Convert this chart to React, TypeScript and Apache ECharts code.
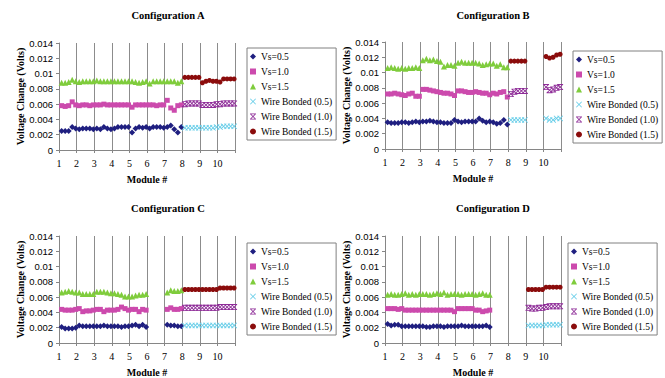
import React, { useEffect, useRef } from "react";
import * as echarts from "echarts";

// ---------- data ----------
const SERIES_NAMES = [
  "Vs=0.5",
  "Vs=1.0",
  "Vs=1.5",
  "Wire Bonded (0.5)",
  "Wire Bonded (1.0)",
  "Wire Bonded (1.5)",
];
const PANEL_TITLES = ["Configuration A", "Configuration B", "Configuration C", "Configuration D"];
const MODULE_TICKS = [1, 2, 3, 4, 5, 6, 7, 8, 9, 10, 11];
const MODULE_LABELS = ["1", "2", "3", "4", "5", "6", "7", "8", "9", "10", ""];
// position of the 5 samples inside one module
const SAMPLE_OFFSETS = [0.15, 0.35, 0.55, 0.75, 0.95];

// Each array: one group of 5 samples per module (null = module not measured)
// Configuration A
const A_VS05 = [
  [0.0025, 0.0025, 0.0025, 0.003, 0.0028],
  [0.0027, 0.0028, 0.0028, 0.0028, 0.0027],
  [0.0028, 0.0027, 0.003, 0.0028, 0.0027],
  [0.0028, 0.003, 0.003, 0.003, 0.003],
  [0.0023, 0.0028, 0.003, 0.0029, 0.003],
  [0.0028, 0.003, 0.003, 0.003, 0.0029],
  [0.003, 0.0032, 0.0027, 0.0023, 0.003],
];
const A_VS10 = [
  [0.0058, 0.0057, 0.0058, 0.0063, 0.0059],
  [0.0058, 0.0059, 0.0059, 0.0058, 0.0059],
  [0.0059, 0.0059, 0.006, 0.0059, 0.0059],
  [0.0059, 0.0059, 0.0059, 0.0059, 0.0059],
  [0.0056, 0.0059, 0.0059, 0.0059, 0.0059],
  [0.0059, 0.0059, 0.0058, 0.0059, 0.0059],
  [0.0065, 0.0055, 0.0052, 0.0058, 0.0059],
];
const A_VS15 = [
  [0.0088, 0.0088, 0.0089, 0.0092, 0.009],
  [0.0089, 0.009, 0.009, 0.009, 0.009],
  [0.0091, 0.009, 0.009, 0.009, 0.009],
  [0.009, 0.009, 0.009, 0.009, 0.009],
  [0.009, 0.0089, 0.0088, 0.0089, 0.009],
  [0.0087, 0.009, 0.009, 0.009, 0.009],
  [0.009, 0.009, 0.009, 0.0088, 0.009],
];
const A_WB05 = [
  [0.0029, 0.0029, 0.0029, 0.0029, 0.0029],
  [0.0029, 0.0029, 0.0029, 0.0029, 0.003],
  [0.003, 0.0031, 0.0031, 0.0031, 0.0031],
];
const A_WB10 = [
  [0.006, 0.0061, 0.0061, 0.0061, 0.0061],
  [0.0059, 0.0059, 0.0059, 0.0059, 0.006],
  [0.006, 0.0061, 0.0061, 0.0061, 0.0061],
];
const A_WB15 = [
  [0.0095, 0.0095, 0.0095, 0.0095, 0.0095],
  [0.0088, 0.009, 0.0091, 0.009, 0.009],
  [0.0089, 0.0093, 0.0093, 0.0093, 0.0093],
];

// Configuration B
const B_VS05 = [
  [0.0035, 0.0034, 0.0034, 0.0034, 0.0035],
  [0.0035, 0.0034, 0.0035, 0.0036, 0.0035],
  [0.0036, 0.0036, 0.0037, 0.0036, 0.0035],
  [0.0035, 0.0034, 0.0034, 0.0034, 0.0038],
  [0.0036, 0.0035, 0.0036, 0.0036, 0.0036],
  [0.0036, 0.004, 0.0037, 0.0035, 0.0036],
  [0.0035, 0.0033, 0.0034, 0.0038, 0.0032],
];
const B_VS10 = [
  [0.0072, 0.0072, 0.0073, 0.0072, 0.0071],
  [0.007, 0.0072, 0.0073, 0.0069, 0.0069],
  [0.0078, 0.0078, 0.0077, 0.0076, 0.0075],
  [0.0074, 0.0073, 0.0073, 0.0072, 0.007],
  [0.0076, 0.0076, 0.0075, 0.0074, 0.0074],
  [0.0075, 0.0074, 0.0073, 0.0073, 0.0071],
  [0.0073, 0.0072, 0.0074, 0.0075, 0.0068],
];
const B_VS15 = [
  [0.0106, 0.0107, 0.0106, 0.0105, 0.0106],
  [0.0105, 0.0106, 0.0106, 0.0107, 0.0106],
  [0.0116, 0.0118, 0.0116, 0.0117, 0.0115],
  [0.0114, 0.0108, 0.011, 0.011, 0.0109],
  [0.0113, 0.0114, 0.0113, 0.0113, 0.0113],
  [0.0113, 0.0112, 0.011, 0.0111, 0.0112],
  [0.0112, 0.0109, 0.0111, 0.0107, 0.0107],
];
const B_WB05 = [
  [0.0038, 0.0038, 0.0038, 0.0038, 0.0038],
  null,
  [0.004, 0.0038, 0.0038, 0.004, 0.004],
];
const B_WB10 = [
  [0.0072, 0.0075, 0.0076, 0.0076, 0.0076],
  null,
  [0.0081, 0.0077, 0.0078, 0.008, 0.0081],
];
const B_WB15 = [
  [0.0115, 0.0115, 0.0115, 0.0115, 0.0115],
  null,
  [0.0121, 0.0119, 0.012, 0.0123, 0.0124],
];

// Configuration C
const C_VS05 = [
  [0.0021, 0.0019, 0.0019, 0.0019, 0.002],
  [0.0023, 0.0022, 0.0022, 0.0022, 0.0022],
  [0.0022, 0.0022, 0.0023, 0.0022, 0.0022],
  [0.0022, 0.0022, 0.0021, 0.0022, 0.0022],
  [0.0023, 0.0024, 0.0022, 0.0024, 0.0021],
  null,
  [0.0024, 0.0023, 0.0023, 0.0022, 0.0022],
];
const C_VS10 = [
  [0.0044, 0.0043, 0.0043, 0.0043, 0.0044],
  [0.0045, 0.0041, 0.0042, 0.0042, 0.0043],
  [0.0044, 0.0044, 0.0041, 0.0043, 0.0043],
  [0.0043, 0.0044, 0.0047, 0.0045, 0.0043],
  [0.0044, 0.0044, 0.0041, 0.0044, 0.0043],
  null,
  [0.0044, 0.0046, 0.0044, 0.0044, 0.0045],
];
const C_VS15 = [
  [0.0066, 0.0067, 0.0068, 0.0067, 0.0066],
  [0.0066, 0.0064, 0.0064, 0.0064, 0.0064],
  [0.0067, 0.0067, 0.0067, 0.0066, 0.0065],
  [0.0065, 0.0064, 0.0063, 0.0061, 0.0061],
  [0.0061, 0.0062, 0.0063, 0.0063, 0.0064],
  null,
  [0.0066, 0.0069, 0.0068, 0.0068, 0.0069],
];
const C_WB05 = [
  [0.0023, 0.0023, 0.0023, 0.0023, 0.0023],
  [0.0023, 0.0023, 0.0023, 0.0023, 0.0023],
  [0.0023, 0.0023, 0.0023, 0.0023, 0.0023],
];
const C_WB10 = [
  [0.0046, 0.0046, 0.0046, 0.0046, 0.0046],
  [0.0046, 0.0046, 0.0046, 0.0046, 0.0046],
  [0.0047, 0.0047, 0.0047, 0.0047, 0.0047],
];
const C_WB15 = [
  [0.007, 0.007, 0.007, 0.007, 0.007],
  [0.007, 0.007, 0.007, 0.007, 0.007],
  [0.0072, 0.0072, 0.0072, 0.0072, 0.0072],
];

// Configuration D
const D_VS05 = [
  [0.0025, 0.0023, 0.0024, 0.0024, 0.0022],
  [0.0022, 0.0022, 0.0022, 0.0022, 0.0022],
  [0.0022, 0.0021, 0.0021, 0.0022, 0.0022],
  [0.0022, 0.0021, 0.0022, 0.0022, 0.0022],
  [0.0022, 0.0023, 0.0022, 0.0022, 0.0022],
  [0.0022, 0.0022, 0.0022, 0.0023, 0.0021],
];
const D_VS10 = [
  [0.0045, 0.0045, 0.0045, 0.0044, 0.0045],
  [0.0043, 0.0043, 0.0043, 0.0043, 0.0043],
  [0.0043, 0.0043, 0.0043, 0.0043, 0.0043],
  [0.0043, 0.0043, 0.0043, 0.0043, 0.0041],
  [0.0045, 0.0045, 0.0045, 0.0045, 0.0045],
  [0.0043, 0.0043, 0.0041, 0.0042, 0.0043],
];
const D_VS15 = [
  [0.0063, 0.0064, 0.0063, 0.0063, 0.0064],
  [0.0065, 0.0063, 0.0064, 0.0063, 0.0064],
  [0.0064, 0.0064, 0.0063, 0.0064, 0.0065],
  [0.0064, 0.0066, 0.0063, 0.0064, 0.0064],
  [0.0064, 0.0063, 0.0064, 0.0064, 0.0064],
  [0.0063, 0.0064, 0.0065, 0.0063, 0.0063],
];
const D_WB05 = [
  [0.0023, 0.0023, 0.0023, 0.0023, 0.0023],
  [0.0024, 0.0024, 0.0024, 0.0024, 0.0024],
];
const D_WB10 = [
  [0.0046, 0.0045, 0.0045, 0.0046, 0.0046],
  [0.0047, 0.0048, 0.0048, 0.0048, 0.0048],
];
const D_WB15 = [
  [0.007, 0.007, 0.007, 0.007, 0.007],
  [0.0073, 0.0073, 0.0073, 0.0073, 0.0073],
];

// [first module, groups] per series, per panel
const PANEL_DATA = [
  [[1, A_VS05], [1, A_VS10], [1, A_VS15], [8, A_WB05], [8, A_WB10], [8, A_WB15]],
  [[1, B_VS05], [1, B_VS10], [1, B_VS15], [8, B_WB05], [8, B_WB10], [8, B_WB15]],
  [[1, C_VS05], [1, C_VS10], [1, C_VS15], [8, C_WB05], [8, C_WB10], [8, C_WB15]],
  [[1, D_VS05], [1, D_VS10], [1, D_VS15], [9, D_WB05], [9, D_WB10], [9, D_WB15]],
];

// ---------- styling ----------
const SERIF = "Liberation Serif";
const SANS = "Liberation Sans";
const X_SYMBOL = "path://M0,1L1,0L5,4L9,0L10,1L6,5L10,9L9,10L5,6L1,10L0,9L4,5Z";
const STAR_SYMBOL =
  "path://M0,1L1,0L5,4L9,0L10,1L6,5L10,9L9,10L5,6L1,10L0,9L4,5Z M0,0L10,0L10,1.4L0,1.4Z M0,8.6L10,8.6L10,10L0,10Z";
const SERIES_STYLE = [
  { symbol: "diamond", size: 6, color: "#1f1f80" },
  { symbol: "rect", size: 5, color: "#cc4aad" },
  { symbol: "triangle", size: 6, color: "#7fcc3c" },
  { symbol: X_SYMBOL, size: 6, color: "#66cde8" },
  { symbol: STAR_SYMBOL, size: 6, color: "#8e2c98" },
  { symbol: "circle", size: 5, color: "#8b0c0c" },
];
const LAYOUT = [
  { left: 59, top: 43, titleX: 168, titleY: 15, legendLeft: 247, legendTop: 48 },
  { left: 385, top: 42, titleX: 493, titleY: 15, legendLeft: 573, legendTop: 51 },
  { left: 59, top: 236, titleX: 168, titleY: 208, legendLeft: 247, legendTop: 243 },
  { left: 385, top: 236, titleX: 493, titleY: 208, legendLeft: 568, legendTop: 243 },
];
const GRID_W = 176;
const GRID_H = 107;
const AXIS_GRAY = "#868686";

function toPoints(start: number, groups: (number[] | null)[]) {
  const pts: number[][] = [];
  groups.forEach((g, gi) => {
    if (!g) return;
    const m = start + gi;
    g.forEach((v, j) => pts.push([m + SAMPLE_OFFSETS[j], v]));
  });
  return pts;
}

export default function App() {
  const ref = useRef<HTMLDivElement>(null);
  useEffect(() => {
    document.body.style.margin = "0";
    if (!ref.current) return;
    const chart = echarts.init(ref.current, null, { renderer: "svg" });

    const grid = LAYOUT.map((l) => ({ left: l.left, top: l.top, width: GRID_W, height: GRID_H }));
    const xAxis = LAYOUT.map((_, i) => ({
      gridIndex: i,
      type: "value",
      min: MODULE_TICKS[0],
      max: MODULE_TICKS[MODULE_TICKS.length - 1],
      interval: 1,
      axisLine: { show: true, onZero: false, lineStyle: { color: AXIS_GRAY } },
      axisTick: { show: true, length: 3, lineStyle: { color: AXIS_GRAY } },
      axisLabel: {
        fontFamily: SERIF,
        fontSize: 10,
        color: "#000",
        margin: 8,
        formatter: (v: number) => MODULE_LABELS[MODULE_TICKS.indexOf(Math.round(v))] ?? "",
      },
      splitLine: { show: true, lineStyle: { color: "#8c8c8c", width: 1 } },
      name: "Module #",
      nameLocation: "middle",
      nameGap: 24,
      nameTextStyle: { fontFamily: SERIF, fontWeight: "bold", fontSize: 10, color: "#000" },
    }));
    const yAxis = LAYOUT.map((_, i) => ({
      gridIndex: i,
      type: "value",
      min: 0,
      max: 0.014,
      interval: 0.002,
      axisLine: { show: true, lineStyle: { color: AXIS_GRAY } },
      axisTick: { show: true, length: 3, lineStyle: { color: AXIS_GRAY } },
      axisLabel: {
        fontFamily: SANS,
        fontSize: 9.5,
        color: "#000",
        margin: 6,
        formatter: (v: number) => String(parseFloat(v.toFixed(3))),
      },
      splitLine: { show: false },
      name: "Voltage Change (Volts)",
      nameLocation: "middle",
      nameGap: 32,
      nameTextStyle: { fontFamily: SERIF, fontWeight: "bold", fontSize: 10, color: "#000" },
    }));
    const series: any[] = [];
    PANEL_DATA.forEach((panel, pi) => {
      panel.forEach(([start, groups], si) => {
        const st = SERIES_STYLE[si];
        series.push({
          type: "scatter",
          name: SERIES_NAMES[si],
          xAxisIndex: pi,
          yAxisIndex: pi,
          symbol: st.symbol,
          symbolSize: st.size,
          itemStyle: { color: st.color, opacity: 1 },
          data: toPoints(start as number, groups as any),
          silent: true,
        });
      });
    });
    const legend = LAYOUT.map((l) => ({
      left: l.legendLeft,
      top: l.legendTop,
      orient: "vertical",
      data: SERIES_NAMES,
      itemWidth: 6,
      itemHeight: 6,
      itemGap: 4,
      padding: [3, 4, 3, 3],
      borderColor: "#808080",
      borderWidth: 1,
      backgroundColor: "#fff",
      selectedMode: false,
      textStyle: { fontFamily: SERIF, fontSize: 9.5, lineHeight: 11, color: "#000" },
    }));
    const graphic = LAYOUT.map((l, i) => ({
      type: "text",
      x: l.titleX,
      y: l.titleY,
      style: {
        text: PANEL_TITLES[i],
        textAlign: "center",
        textVerticalAlign: "middle",
        fontFamily: SERIF,
        fontWeight: "bold",
        fontSize: 10.5,
        fill: "#000",
      },
    }));

    chart.setOption({
      animation: false,
      backgroundColor: "#fff",
      grid,
      xAxis,
      yAxis,
      series,
      legend,
      graphic,
    });
    return () => chart.dispose();
  }, []);
  return <div ref={ref} style={{ width: 665, height: 378 }} />;
}
